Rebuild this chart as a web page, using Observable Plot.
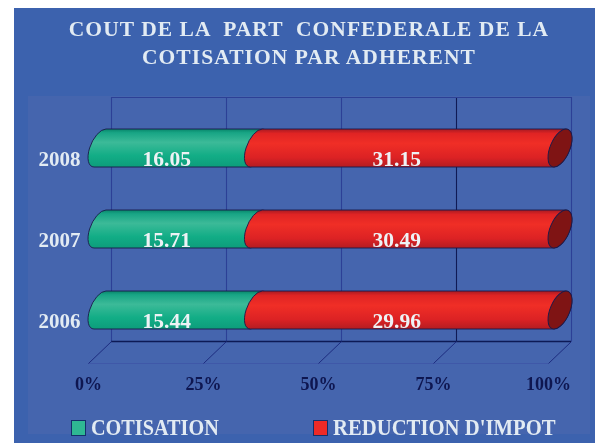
<!DOCTYPE html>
<html><head><meta charset="utf-8">
<script src="https://cdn.jsdelivr.net/npm/d3@7"></script>
<script src="https://cdn.jsdelivr.net/npm/@observablehq/plot@0.6"></script>
<style>
html,body{margin:0;padding:0;background:#fff;width:595px;height:443px;overflow:hidden}
#root{position:relative;width:595px;height:443px;overflow:hidden;filter:blur(.45px);font-family:"Liberation Serif",serif;font-weight:bold}
#panel{position:absolute;left:14px;top:8px;width:581px;height:435px;background:#3c62ae}
#chart{position:absolute;left:0;top:0}
#chart svg{background:transparent;display:block}
h1{position:absolute;left:14px;width:590px;margin:0;text-align:center;color:#e2ebf3;font-size:21.5px;line-height:28px;top:15px;font-weight:bold;letter-spacing:1.05px;white-space:pre}
.lg{position:absolute;top:414px;color:#e2ebf3;font-size:23px;line-height:28px;white-space:nowrap;transform-origin:left center}
.sw{position:absolute;top:420px;width:13px;height:14px;border:1px solid #14306a}
</style></head><body>
<div id="root"><div id="panel"></div><div id="chart"></div>
<h1 id="title"></h1>
<div class="sw" style="left:71px;background:#2fb893"></div><div class="lg" style="left:91px;transform:scaleX(.88)" id="l1"></div>
<div class="sw" style="left:313px;background:#ee2a26"></div><div class="lg" style="left:333px;transform:scaleX(.9)" id="l2"></div>
</div>
<script>
const titleLines = ["COUT DE LA  PART  CONFEDERALE DE LA", "COTISATION PAR ADHERENT"];
const years = ["2008", "2007", "2006"];
const cotisation = [16.05, 15.71, 15.44];
const reduction = [31.15, 30.49, 29.96];
const seriesNames = ["COTISATION", "REDUCTION D'IMPOT"];
const xTicks = [0, 25, 50, 75, 100];

document.getElementById("title").textContent = titleLines.join("\n");
document.getElementById("l1").textContent = seriesNames[0];
document.getElementById("l2").textContent = seriesNames[1];

const rows = years.map((year, i) => {
  const total = cotisation[i] + reduction[i];
  return {year, a: cotisation[i], b: reduction[i], split: cotisation[i] / total * 100};
});

// tube geometry (oblique cylinder drawn around each bar rectangle)
const capW = 12, capTop = 6;
function ellipseOf(h) {
  const H = h / 2, cxy = -capTop * H, p = capW * capW, q = H * H;
  const th = 0.5 * Math.atan2(2 * cxy, p - q);
  const s = Math.sqrt((p - q) * (p - q) + 4 * cxy * cxy);
  return {a: Math.sqrt((p + q + s) / 2), b: Math.sqrt((p + q - s) / 2), rot: th * 180 / Math.PI};
}
function tube(withCap) {
  return (index, scales, channels, dims, ctx, next) => {
    const g = next(index, scales, channels, dims, ctx);
    for (const r of [...g.querySelectorAll("rect")]) {
      const x = +r.getAttribute("x"), y = +r.getAttribute("y");
      const w = +r.getAttribute("width"), h = +r.getAttribute("height");
      const {a, b, rot} = ellipseOf(h);
      const c1 = x + capW, c2 = x + w + capW;
      const arc = (px, py) => `A${a},${b} ${rot} 0 1 ${px},${py}`;
      const p = document.createElementNS("http://www.w3.org/2000/svg", "path");
      p.setAttribute("d", `M${c1 - capTop},${y + h}${arc(c1 + capTop, y)}L${c2 + capTop},${y}${arc(c2 - capTop, y + h)}Z`);
      p.setAttribute("fill", r.getAttribute("fill") || g.getAttribute("fill"));
      r.replaceWith(p);
      if (withCap) {
        const e = document.createElementNS("http://www.w3.org/2000/svg", "ellipse");
        e.setAttribute("transform", `translate(${c2},${y + h / 2}) rotate(${rot})`);
        e.setAttribute("rx", a); e.setAttribute("ry", b);
        e.setAttribute("fill", "#7f1414");
        p.after(e);
      }
    }
    return g;
  };
}

const px = v => ({value: () => v, scale: null});
const skew = 5; // depth of the chart expressed in axis percent
const bandMid = 19; // rules and links on a band y scale are centred on the band
const wallTop = 97, wallBottom = 341, floorFront = 363;
const gridColor = d => d === 75 ? "#101a55" : "#2c4096";

const plot = Plot.plot({
  width: 595, height: 443,
  marginLeft: 88, marginRight: 47, marginTop: wallTop, marginBottom: 443 - wallBottom,
  style: {background: "transparent", fontFamily: "'Liberation Serif',serif", fontWeight: "bold", overflow: "visible"},
  x: {domain: [0, 100], range: [88, 548], label: null},
  y: {domain: years, range: [128.5, 329.5], type: "band", paddingInner: 0.534, paddingOuter: 0, label: null},
  marks: [
    Plot.rect([0], {x1: px(28), x2: px(590), y1: px(96), y2: px(396), fill: "#4565ae"}),
    Plot.ruleX(xTicks, {x: d => d + skew, stroke: gridColor, strokeWidth: 1.1}),
    Plot.ruleY([0], {y: px(wallTop - bandMid), x1: skew, x2: 100 + skew, stroke: "#2c4096"}),
    Plot.ruleY([0], {y: px(wallBottom - bandMid), x1: skew, x2: 100 + skew, stroke: "#0d1a55", strokeWidth: 1.4}),
    Plot.ruleY([0], {y: px(floorFront - bandMid), x1: 0, x2: 100, stroke: "#3f58a8", strokeWidth: 1}),
    Plot.link(xTicks, {x1: d => d + skew, x2: d => d, y1: px(wallBottom - bandMid), y2: px(floorFront - bandMid), stroke: "#1d2c80", strokeWidth: 1}),
    Plot.axisX(xTicks, {anchor: "bottom", label: null, tickSize: 0, tickPadding: 36, tickFormat: d => d + "%", fontSize: 18, fill: "#0e1650", fontWeight: "bold"}),
    Plot.axisY(years, {anchor: "left", label: null, tickSize: 0, tickPadding: 8, fontSize: 21, fill: "#e2ebf3", fontWeight: "bold", dy: 11}),
    Plot.barX(rows, {x1: 0, x2: "split", y: "year", fill: "url(#gGreen)", render: tube(false)}),
    Plot.barX(rows, {x1: "split", x2: 100, y: "year", fill: "url(#gRed)", render: tube(true)}),
    Plot.text(rows, {x: d => d.split / 2, y: "year", text: d => d.a.toFixed(2), fontSize: 21.5, fill: "#eef2f5", fontWeight: "bold", dy: 11}),
    Plot.text(rows, {x: d => (d.split + 100) / 2, y: "year", text: d => d.b.toFixed(2), fontSize: 21.5, fill: "#eef2f5", fontWeight: "bold", dy: 11})
  ]
});

const defs = d3.select(plot).insert("defs", ":first-child");
const grad = (id, stops) => {
  const g = defs.append("linearGradient").attr("id", id).attr("x1", 0).attr("x2", 0).attr("y1", 0).attr("y2", 1);
  stops.forEach(([o, c]) => g.append("stop").attr("offset", o).attr("stop-color", c));
};
grad("gGreen", [[0, "#08866a"], [.1, "#18a585"], [.35, "#3cba98"], [.7, "#12ad86"], [1, "#0d9d7b"]]);
grad("gRed", [[0, "#a81a22"], [.12, "#e02424"], [.38, "#f02e26"], [.75, "#dc2224"], [1, "#b41c22"]]);
d3.select(plot).selectAll("path,ellipse").filter(function () { return this.closest("g") && /url\(#g|7f1414/.test(this.getAttribute("fill") || ""); })
  .attr("stroke", "#1a1a4a").attr("stroke-width", .9);
document.getElementById("chart").append(plot);
</script>
</body></html>
